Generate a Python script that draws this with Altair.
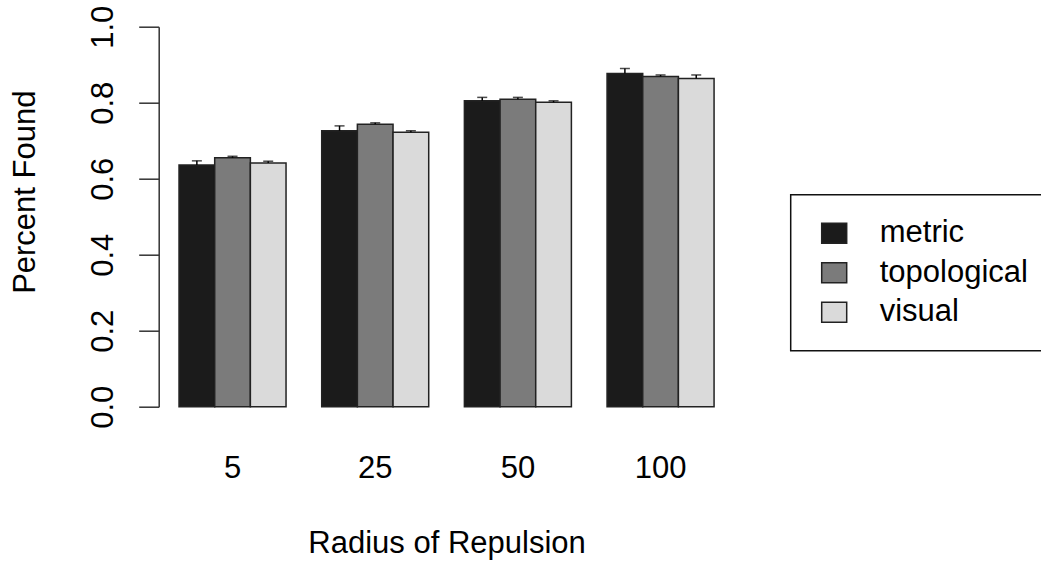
import altair as alt
import pandas as pd

# Group labels (radius of repulsion) and the three search strategies
radius = ["5", "25", "50", "100"]
series = ["metric", "topological", "visual"]

# Mean proportion found per radius, one list per strategy
metric_mean = [0.636, 0.726, 0.805, 0.877]
topological_mean = [0.655, 0.743, 0.809, 0.869]
visual_mean = [0.641, 0.722, 0.801, 0.864]

# Standard errors (drawn upward only)
metric_se = [0.011, 0.013, 0.009, 0.013]
topological_se = [0.004, 0.004, 0.005, 0.004]
visual_se = [0.005, 0.004, 0.004, 0.009]

fills = ["#1b1b1b", "#7b7b7b", "#dadada"]
y_ticks = [0.0, 0.2, 0.4, 0.6, 0.8, 1.0]

means = {"metric": metric_mean, "topological": topological_mean, "visual": visual_mean}
ses = {"metric": metric_se, "topological": topological_se, "visual": visual_se}

rows = []
for s in series:
    for i, r in enumerate(radius):
        rows.append({"radius": r, "series": s, "mean": means[s][i],
                     "upper": means[s][i] + ses[s][i]})
df = pd.DataFrame(rows)

FONT = "Liberation Sans"
FS = 31

x_enc = alt.X("radius:N", sort=radius,
              scale=alt.Scale(paddingInner=0.25, paddingOuter=0.1425),
              axis=alt.Axis(title="Radius of Repulsion", labelAngle=0, domain=False,
                            ticks=False, tickSize=0, labelPadding=71,
                            labelBaseline="alphabetic", labelFontSize=FS,
                            labelFont=FONT, labelColor="#000",
                            titleFont=FONT, titleFontSize=FS, titleFontWeight="normal",
                            titleColor="#000", titleBaseline="alphabetic", titleY=146))
xoff_enc = alt.XOffset("series:N", sort=series,
                       scale=alt.Scale(paddingInner=0, paddingOuter=0))

bars = alt.Chart(df).mark_bar(stroke="#222222", strokeWidth=1.5).encode(
    x=x_enc,
    xOffset=xoff_enc,
    y=alt.Y("mean:Q", scale=alt.Scale(domain=[0, 1], nice=False, zero=True),
            axis=alt.Axis(title="Percent Found", values=y_ticks, format=".1f",
                          labelAngle=270, labelAlign="center", labelBaseline="alphabetic",
                          labelPadding=26, tickSize=20, tickWidth=1.5, tickColor="#333",
                          domainColor="#333", domainWidth=1.5,
                          labelFontSize=FS, labelFont=FONT, labelColor="#000",
                          titleFont=FONT, titleFontSize=FS, titleFontWeight="normal",
                          titleColor="#000", titleAngle=270, titleAlign="center",
                          titleBaseline="alphabetic", titleX=-124, titleY=165)),
    color=alt.Color("series:N", sort=series,
                    scale=alt.Scale(domain=series, range=fills),
                    legend=alt.Legend(title=None, orient="none", legendX=632, legendY=168,
                                      padding=23, symbolType="M-1.25,-1H1.25V1H-1.25Z",
                                      symbolSize=400, symbolOffset=5, labelOffset=30,
                                      rowPadding=7.5, labelFontSize=FS, labelFont=FONT,
                                      labelColor="#000", symbolStrokeColor="#222",
                                      symbolStrokeWidth=1.5, strokeColor="#111",
                                      symbolOpacity=1)),
)

err = alt.Chart(df).mark_rule(color="#000", strokeWidth=1.5).encode(
    x=alt.X("radius:N", sort=radius),
    xOffset=alt.XOffset("series:N", sort=series),
    y="mean:Q",
    y2="upper:Q",
)

caps = alt.Chart(df).mark_tick(color="#000", thickness=1.5, size=10, orient="horizontal").encode(
    x=alt.X("radius:N", sort=radius),
    xOffset=alt.XOffset("series:N", sort=series),
    y="upper:Q",
)

chart = alt.layer(bars, err, caps).properties(
    width=575.7, height=380,
    autosize=alt.AutoSizeParams(type="none"),
    padding={"left": 158.7, "top": 26.7, "right": 306.6, "bottom": 155.3},
    background="white",
).configure_view(stroke=None).configure_axis(grid=False).configure_legend(strokeWidth=1.5)

chart.save("out.html", embed_options={"renderer": "svg", "actions": False})
